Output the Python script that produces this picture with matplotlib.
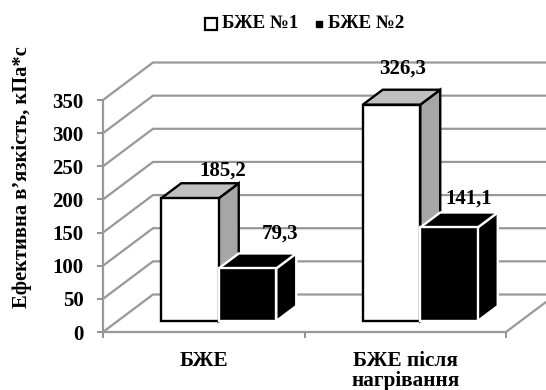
import matplotlib
matplotlib.use('Agg')
import matplotlib.pyplot as plt
from matplotlib.patches import Polygon, Rectangle
from matplotlib.lines import Line2D

plt.rcParams['font.family'] = ['Liberation Serif', 'DejaVu Serif']
plt.rcParams['font.weight'] = 'bold'

categories = ['БЖЕ', 'БЖЕ після\nнагрівання']
series_names = ['БЖЕ №1', 'БЖЕ №2']
bze1 = [185.2, 326.3]
bze2 = [79.3, 141.1]
value_labels1 = ['185,2', '326,3']
value_labels2 = ['79,3', '141,1']
y_ticks = [0, 50, 100, 150, 200, 250, 300, 350]

W, H = 546, 390
fig = plt.figure(figsize=(W/100, H/100), dpi=100)
# front plane of the fake 3d box, in pixels
ax = fig.add_axes([103/W, 1-332/H, 403/W, 232/H])
ax.set_xlim(0, 2)
ax.set_ylim(0, 350)
ax.patch.set_visible(False)

px = 2/403      # data units per pixel, x
py = 350/232    # data units per pixel, y

GRID = '#989898'
# walls
wall_dx, wall_dy = 50*px, 37.5*py
for v in y_ticks:
    ax.plot([0, wall_dx, 2.3], [v, v+wall_dy, v+wall_dy], color=GRID, lw=1.6,
            clip_on=False, zorder=1, solid_joinstyle='miter')
# floor, right edge
ax.plot([2, 2+40*px], [0, 30*py], color=GRID, lw=1.6, clip_on=False, zorder=1)

# bars
bar_w = 57.5*px
depth_x, depth_y = 20*px, 15*py
base = 11*py
shift = 15*px


def bar3d(x0, val, front, side, top, edge, z):
    y0 = base
    y1 = base + val
    x1 = x0 + bar_w
    dx, dy = depth_x, depth_y
    kw = dict(edgecolor=edge, lw=1.7, joinstyle='miter', clip_on=False, zorder=z)
    ax.add_patch(Polygon([[x1, y0], [x1+dx, y0+dy], [x1+dx, y1+dy], [x1, y1]], facecolor=side, **kw))
    ax.add_patch(Polygon([[x0, y1], [x1, y1], [x1+dx, y1+dy], [x0+dx, y1+dy]], facecolor=top, **kw))
    ax.add_patch(Rectangle((x0, y0), bar_w, val, facecolor=front, **kw))


for i in range(len(categories)):
    c = i + 0.5 + shift
    bar3d(c-bar_w, bze1[i], 'white', '#a6a6a6', '#c0c0c0', 'black', 3+i*2)
    bar3d(c, bze2[i], 'black', 'black', 'black', 'white', 4+i*2)

# value labels, offsets in pixels from the top of the front face
offs1 = [(33, 28), (11, 36)]
offs2 = [(33, 35), (20, 29)]
for i in range(len(categories)):
    c = i + 0.5 + shift
    ax.annotate(value_labels1[i], xy=(c-bar_w/2, base+bze1[i]), xytext=(offs1[i][0]*.72, offs1[i][1]*.72),
                textcoords='offset points', ha='center', va='center', fontsize=15, zorder=10)
    ax.annotate(value_labels2[i], xy=(c+bar_w/2, base+bze2[i]), xytext=(offs2[i][0]*.72, offs2[i][1]*.72),
                textcoords='offset points', ha='center', va='center', fontsize=15, zorder=10)

# axes
for s in ['top', 'right']:
    ax.spines[s].set_visible(False)
for s in ['left', 'bottom']:
    ax.spines[s].set_color(GRID)
    ax.spines[s].set_linewidth(1.6)
    ax.spines[s].set_zorder(2)
ax.set_yticks(y_ticks)
ax.set_xticks([0, 1, 2])
ax.set_xticklabels([])
ax.set_xticks([0.5, 1.5], minor=True)
ax.set_xticklabels(categories, minor=True, fontsize=15.3, fontweight='bold', linespacing=0.95)
ax.tick_params(axis='x', which='minor', length=0, pad=14)
ax.tick_params(axis='x', which='major', length=4, width=1.2, color='#808080')
ax.tick_params(axis='y', length=4, width=1.2, color='#808080', labelsize=15, pad=10)
for t in ax.get_xticklabels(minor=True):
    t.set_verticalalignment('top')
fig.text(22/W, 1-177/H, 'Ефективна в’язкість, кПа*с', fontsize=14.8, rotation=90, ha='center', va='center')

# legend drawn by hand to keep the two marker sizes
fig.add_artist(Line2D([211/W], [1-24/H], marker='s', ms=8, mfc='white', mec='black', mew=1.6, ls='none'))
fig.add_artist(Line2D([319/W], [1-24/H], marker='s', ms=5, mfc='black', mec='black', ls='none'))
fig.text(222/W, 1-24/H, series_names[0], fontsize=13.6, va='center', ha='left')
fig.text(328/W, 1-24/H, series_names[1], fontsize=13.6, va='center', ha='left')

plt.savefig('out.png', dpi=100)
